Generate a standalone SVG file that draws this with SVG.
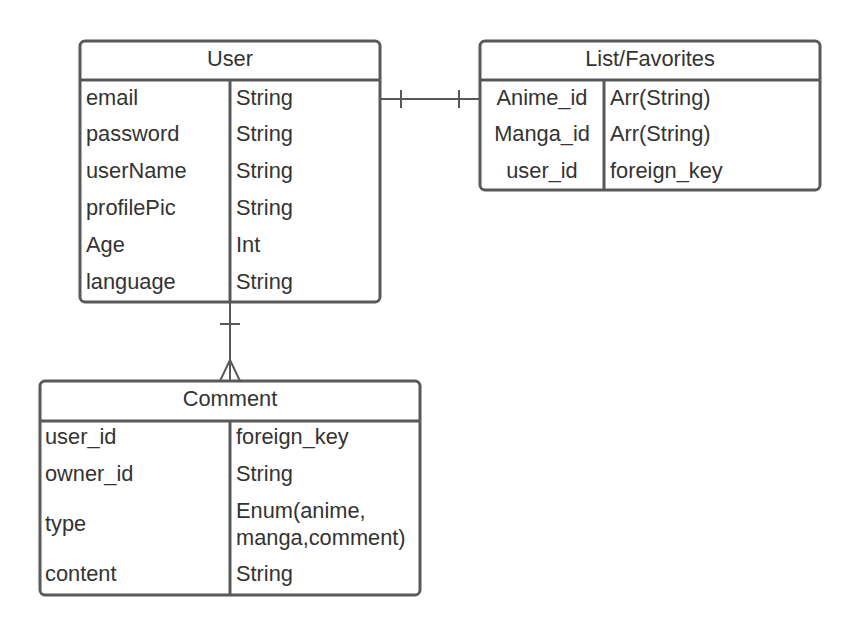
<svg xmlns="http://www.w3.org/2000/svg" width="860" height="635" viewBox="0 0 860 635">
<style>
.box{fill:#fff;stroke:#595959;stroke-width:3}
.ln{stroke:#595959;stroke-width:3;fill:none}
.c{stroke:#595959;stroke-width:2;fill:none}
text{font-family:"Liberation Sans",Arial,sans-serif;font-size:21.8px;fill:#333}
.t{text-anchor:middle}
</style>
<rect width="860" height="635" fill="#fff"/>
<g id="connectors">
<path class="c" d="M380 99 H480 M401 90 V108 M459 90 V108"/>
<path class="c" d="M230 302 V381 M220 324 H240 M230 360 L220 381 M230 360 L240 381"/>
</g>
<g id="user">
<rect class="box" x="80" y="41" width="300" height="261" rx="5"/>
<path class="ln" d="M80 80 H380 M230 80 V302"/>
<text class="t" x="230" y="66">User</text>
<text x="86" y="105">email</text><text x="236" y="105">String</text>
<text x="86" y="141">password</text><text x="236" y="141">String</text>
<text x="86" y="178">userName</text><text x="236" y="178">String</text>
<text x="86" y="215">profilePic</text><text x="236" y="215">String</text>
<text x="86" y="252">Age</text><text x="236" y="252">Int</text>
<text x="86" y="289">language</text><text x="236" y="289">String</text>
</g>
<g id="list">
<rect class="box" x="480" y="41" width="340" height="149" rx="5"/>
<path class="ln" d="M480 80 H820 M604 80 V190"/>
<text class="t" x="650" y="66">List/Favorites</text>
<text class="t" x="542" y="105">Anime_id</text><text x="610" y="105">Arr(String)</text>
<text class="t" x="542" y="141">Manga_id</text><text x="610" y="141">Arr(String)</text>
<text class="t" x="542" y="178">user_id</text><text x="610" y="178">foreign_key</text>
</g>
<g id="comment">
<rect class="box" x="40" y="381" width="380" height="214" rx="5"/>
<path class="ln" d="M40 421 H420 M230 421 V595"/>
<text class="t" x="230" y="406">Comment</text>
<text x="45" y="444">user_id</text><text x="236" y="444">foreign_key</text>
<text x="45" y="481">owner_id</text><text x="236" y="481">String</text>
<text x="45" y="531">type</text><text x="236" y="518">Enum(anime,</text><text x="236" y="545">manga,comment)</text>
<text x="45" y="581">content</text><text x="236" y="581">String</text>
</g>
</svg>
